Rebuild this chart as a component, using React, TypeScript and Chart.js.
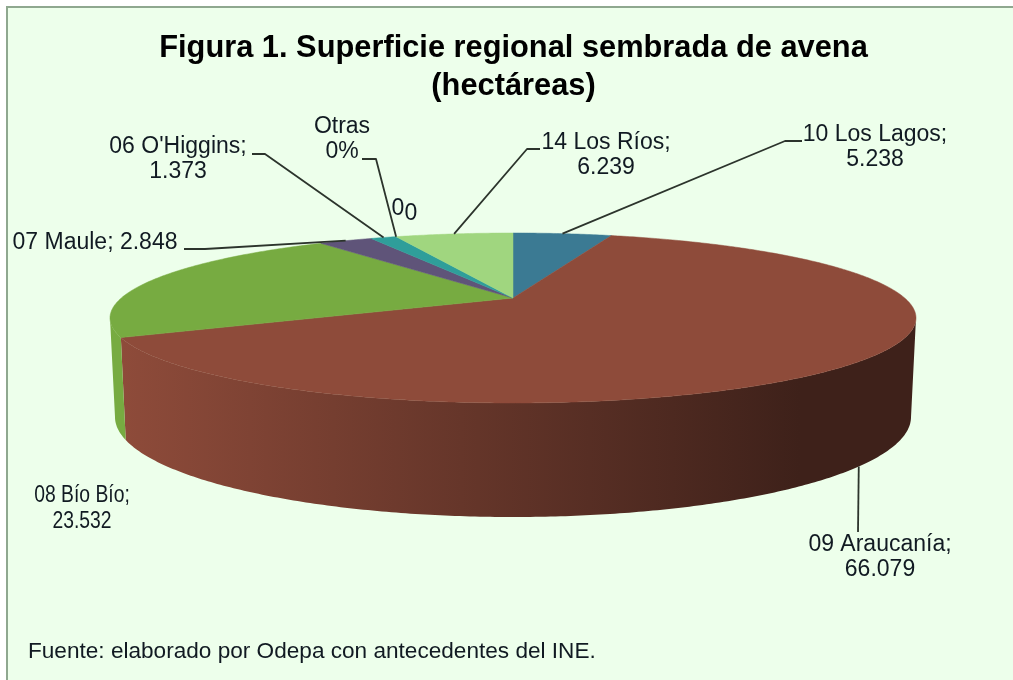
import React, { useEffect, useRef } from "react";
import { Chart, registerables } from "chart.js";

Chart.register(...registerables);

const categories = ["10 Los Lagos", "09 Araucanía", "08 Bío Bío", "07 Maule", "06 O'Higgins", "Otras", "Serie A", "Serie B", "14 Los Ríos"];
const hectares = [5238, 66079, 23532, 2848, 1373, 0, 0, 0, 6239];
const sliceColors = ["#3B7A93", "#8E4B3A", "#77AB41", "#5F5479", "#2F9E9A", "#A5A5A5", "#A5A5A5", "#A5A5A5", "#A0D67F"];
const titleLines = ["Figura 1. Superficie regional sembrada de avena", "(hectáreas)"];
const sourceNote = "Fuente: elaborado por Odepa con antecedentes del INE.";

const FONT = '"Liberation Sans", Arial, sans-serif';
const TOP = { cx: 513, cy: 318, rx: 403, ry: 85 };
const BOTTOM = { cx: 513, cy: 417, rx: 398, ry: 100 };
const TILT = 0.235;

type Note = { lines: string[]; x: number; y: number; knee?: [number, number][]; rim?: boolean; index?: number; squeeze?: number };
const notes: Note[] = [
  { lines: ["10 Los Lagos;", "5.238"], x: 875, y: 134.5, knee: [[802, 141], [785, 141]], index: 0 },
  { lines: ["09 Araucanía;", "66.079"], x: 880, y: 544.5, knee: [[858, 532]], index: 1, rim: true },
  { lines: ["08 Bío Bío;", "23.532"], x: 82, y: 496, squeeze: 0.84 },
  { lines: ["07 Maule; 2.848"], x: 95, y: 242.5, knee: [[184, 249], [205, 249]], index: 3 },
  { lines: ["06 O'Higgins;", "1.373"], x: 178, y: 146.5, knee: [[252, 154], [265, 154]], index: 4 },
  { lines: ["Otras", "0%"], x: 342, y: 126.5, knee: [[362, 159], [376, 159]], index: 5 },
  { lines: ["0"], x: 398, y: 209 },
  { lines: ["0"], x: 411, y: 214 },
  { lines: ["14 Los Ríos;", "6.239"], x: 606, y: 142.5, knee: [[540, 149], [527, 149]], index: 8 },
];

// Projective view of the pie disc: clockwise angle from 12 o'clock -> disc coordinates
function project(theta: number) {
  const x = Math.sin(theta);
  const y = Math.cos(theta);
  const d = 1 + TILT * y;
  return { u: (x * Math.sqrt(1 - TILT * TILT)) / d, v: (y + TILT) / d };
}
const onTop = (u: number, v: number) => [TOP.cx + TOP.rx * u, TOP.cy - TOP.ry * v] as [number, number];
const onBottom = (u: number, v: number) => [BOTTOM.cx + BOTTOM.rx * u, BOTTOM.cy - BOTTOM.ry * v] as [number, number];

function shade(hex: string, k: number) {
  const n = parseInt(hex.slice(1), 16);
  const c = [(n >> 16) & 255, (n >> 8) & 255, n & 255].map((v) => Math.round(v * k));
  return `rgb(${c[0]},${c[1]},${c[2]})`;
}

function samples(start: number, end: number) {
  const a = start + Math.PI / 2;
  const b = end + Math.PI / 2;
  const n = Math.max(2, Math.ceil((b - a) / 0.01));
  const out: number[] = [];
  for (let i = 0; i <= n; i++) out.push(a + ((b - a) * i) / n);
  return out;
}

const pie3d = {
  id: "pie3d",
  beforeDraw(chart: any) {
    const { ctx, width, height } = chart;
    ctx.save();
    ctx.fillStyle = "#ffffff";
    ctx.fillRect(0, 0, width, height);
    ctx.fillStyle = "#EDFFEB";
    ctx.fillRect(6, 6, width, height);
    ctx.strokeStyle = "#8FA88F";
    ctx.lineWidth = 2;
    ctx.beginPath();
    ctx.moveTo(7, height + 2);
    ctx.lineTo(7, 7);
    ctx.lineTo(width + 2, 7);
    ctx.stroke();
    ctx.restore();
  },
  beforeDatasetsDraw(chart: any) {
    const { ctx } = chart;
    const arcs = chart.getDatasetMeta(0).data;
    ctx.save();
    // rim
    arcs.forEach((arc: any, i: number) => {
      const pts = samples(arc.startAngle, arc.endAngle).map(project).filter((p) => p.v <= 0);
      if (pts.length < 2) return;
      const g = ctx.createLinearGradient(122, 0, 800, 0);
      g.addColorStop(0, sliceColors[i]);
      g.addColorStop(1, shade(sliceColors[i], 0.44));
      ctx.fillStyle = g;
      ctx.beginPath();
      pts.forEach((p, k) => {
        const [x, y] = onTop(p.u, p.v);
        if (k) ctx.lineTo(x, y);
        else ctx.moveTo(x, y);
      });
      [...pts].reverse().forEach((p) => {
        const [x, y] = onBottom(p.u, p.v);
        ctx.lineTo(x, y);
      });
      ctx.closePath();
      ctx.fill();
    });
    // top face
    const apex = onTop(0, TILT);
    arcs.forEach((arc: any, i: number) => {
      if (arc.endAngle - arc.startAngle <= 0) return;
      ctx.fillStyle = sliceColors[i];
      ctx.strokeStyle = sliceColors[i];
      ctx.lineWidth = 0.5;
      ctx.beginPath();
      ctx.moveTo(apex[0], apex[1]);
      samples(arc.startAngle, arc.endAngle).map(project).forEach((p) => {
        const [x, y] = onTop(p.u, p.v);
        ctx.lineTo(x, y);
      });
      ctx.closePath();
      ctx.fill();
      ctx.stroke();
    });
    ctx.restore();
    return false;
  },
  afterDraw(chart: any) {
    const { ctx } = chart;
    const arcs = chart.getDatasetMeta(0).data;
    ctx.save();
    ctx.strokeStyle = "#2c342c";
    ctx.lineWidth = 1.8;
    ctx.lineJoin = "round";
    notes.forEach((note) => {
      if (note.index === undefined || !note.knee) return;
      const arc = arcs[note.index];
      const p = project((arc.startAngle + arc.endAngle) / 2 + Math.PI / 2);
      const end = note.rim ? onBottom(p.u, p.v) : onTop(p.u, p.v);
      ctx.beginPath();
      note.knee.forEach(([x, y], k) => (k ? ctx.lineTo(x, y) : ctx.moveTo(x, y)));
      ctx.lineTo(end[0], end[1]);
      ctx.stroke();
    });
    ctx.fillStyle = "#111a22";
    ctx.textAlign = "center";
    ctx.textBaseline = "middle";
    ctx.font = `23px ${FONT}`;
    notes.forEach((note) => {
      ctx.save();
      ctx.translate(note.x, note.y);
      ctx.scale(note.squeeze ?? 1, 1);
      note.lines.forEach((line, k) => ctx.fillText(line, 0, k * 25.5));
      ctx.restore();
    });
    ctx.textAlign = "left";
    ctx.font = `22.6px ${FONT}`;
    ctx.fillText(sourceNote, 28, 652);
    ctx.restore();
  },
};

export default function App() {
  const ref = useRef<HTMLCanvasElement>(null);
  useEffect(() => {
    if (!ref.current) return;
    const chart = new Chart(ref.current, {
      type: "pie",
      data: {
        labels: categories,
        datasets: [{ data: hectares, backgroundColor: sliceColors, borderWidth: 0 }],
      },
      options: {
        animation: false,
        responsive: false,
        layout: { padding: { left: 14 } },
        plugins: {
          legend: { display: false },
          tooltip: { enabled: false },
          title: {
            display: true,
            text: titleLines,
            color: "#000000",
            font: { family: FONT, size: 30.8, weight: "bold", lineHeight: 1.234 },
            padding: { top: 29.5, bottom: 0 },
          },
        },
      },
      plugins: [pie3d],
    } as any);
    return () => chart.destroy();
  }, []);
  return (
    <div style={{ position: "absolute", left: 0, top: 0, width: 1013, height: 680, overflow: "hidden" }}>
      <canvas ref={ref} width={1013} height={680} style={{ display: "block", filter: "blur(0.5px)" }} />
    </div>
  );
}
